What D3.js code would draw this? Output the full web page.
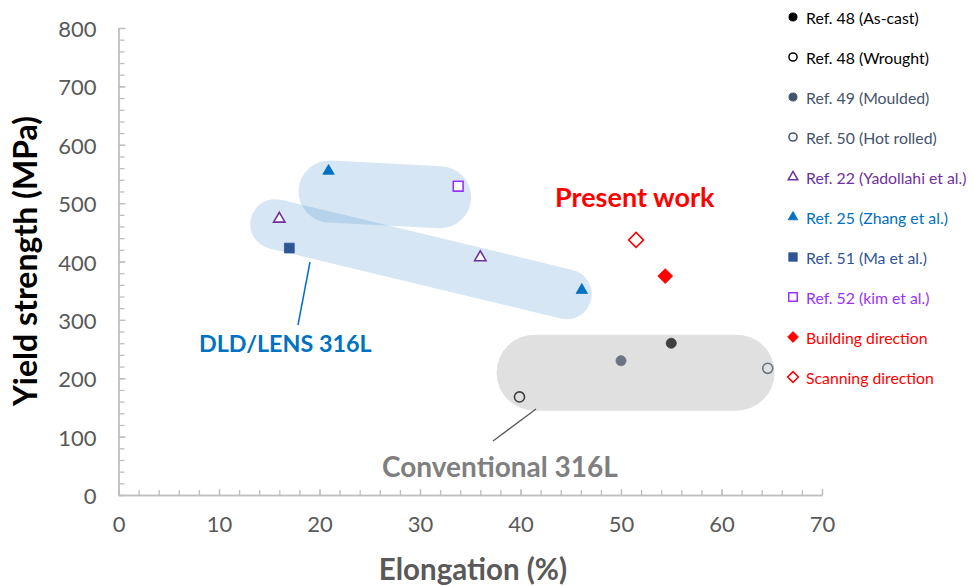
<!DOCTYPE html>
<html>
<head>
<meta charset="utf-8">
<script src="https://cdn.jsdelivr.net/npm/d3@7"></script>
<style>
  body { margin: 0; background: #fff; }
  #chart { width: 974px; height: 586px; }
  text { font-family: Lato, "Open Sans", sans-serif; }
</style>
</head>
<body>
<div id="chart"></div>
<script>
// ---- data: [elongation %, yield strength MPa]
const ref48AsCast    = [[55.0, 260]];
const ref48Wrought   = [[39.9, 168]];
const ref49Moulded   = [[50.0, 230]];
const ref50HotRolled = [[64.6, 217]];
const ref22Yadollahi = [[16.0, 473], [36.0, 407]];
const ref25Zhang     = [[20.9, 555], [46.1, 351]];
const ref51Ma        = [[17.0, 423]];
const ref52Kim       = [[33.8, 529]];
const buildingDir    = [[54.4, 375]];
const scanningDir    = [[51.5, 437]];

const seriesLabels = [
  "Ref. 48 (As-cast)", "Ref. 48 (Wrought)", "Ref. 49 (Moulded)", "Ref. 50 (Hot rolled)",
  "Ref. 22 (Yadollahi et al.)", "Ref. 25 (Zhang et al.)", "Ref. 51 (Ma et al.)",
  "Ref. 52 (kim et al.)", "Building direction", "Scanning direction"
];

// shaded groups, centre line ends in data units
const dldBands  = [[[21.0, 520], [32.0, 510]], [[15.6, 464], [44.6, 344]]];
const convBands = [[[41.4, 209.5], [61.5, 209.5]]];

const xTicks = [0, 10, 20, 30, 40, 50, 60, 70];
const yTicks = [0, 100, 200, 300, 400, 500, 600, 700, 800];

// ---- styles
const series = [
  { label: seriesLabels[0], data: ref48AsCast,    shape: "circle",   color: "#000000", open: false },
  { label: seriesLabels[1], data: ref48Wrought,   shape: "circle",   color: "#000000", open: true },
  { label: seriesLabels[2], data: ref49Moulded,   shape: "circle",   color: "#44546a", open: false },
  { label: seriesLabels[3], data: ref50HotRolled, shape: "circle",   color: "#44546a", open: true },
  { label: seriesLabels[4], data: ref22Yadollahi, shape: "triangle", color: "#7030a0", open: true },
  { label: seriesLabels[5], data: ref25Zhang,     shape: "triangle", color: "#0070c0", open: false },
  { label: seriesLabels[6], data: ref51Ma,        shape: "square",   color: "#2f5597", open: false },
  { label: seriesLabels[7], data: ref52Kim,       shape: "square",   color: "#9933ff", open: true },
  { label: seriesLabels[8], data: buildingDir,    shape: "diamond",  color: "#ff0000", open: false },
  { label: seriesLabels[9], data: scanningDir,    shape: "diamond",  color: "#ff0000", open: true }
];

const symbolType = { circle: d3.symbolCircle, triangle: d3.symbolTriangle, square: d3.symbolSquare, diamond: d3.symbolSquare };
const plotSize   = { circle: 80, triangle: 56, square: 96, diamond: 110 };
const legendSize = { circle: 52, triangle: 40, square: 72, diamond: 58 };

function drawChart() {
  d3.select("#chart").select("svg").remove();

  const W = 974, H = 586;
  const margin = { top: 28, right: 152, bottom: 91, left: 118.5 };
  const width = W - margin.left - margin.right;
  const height = H - margin.top - margin.bottom;

  const root = d3.select("#chart").append("svg")
    .attr("width", W).attr("height", H)
    .attr("viewBox", `0 0 ${W} ${H}`);

  const svg = root.append("g")
    .attr("transform", `translate(${margin.left},${margin.top})`);

  const x = d3.scaleLinear().domain([0, 70]).range([0, width]);
  const y = d3.scaleLinear().domain([0, 800]).range([height, 0]);

  // axes: minor ticks first, then majors with labels
  const axisColor = "#bfbfbf";
  const minorX = svg.append("g")
    .attr("transform", `translate(0,${height})`)
    .call(d3.axisBottom(x).tickValues(d3.range(0, 71, 2)).tickSizeInner(-5).tickSizeOuter(0).tickFormat(""));
  const minorY = svg.append("g")
    .call(d3.axisLeft(y).tickValues(d3.range(0, 801, 20)).tickSizeInner(-6).tickSizeOuter(0).tickFormat(""));

  const xAxis = svg.append("g")
    .attr("transform", `translate(0,${height})`)
    .call(d3.axisBottom(x).tickValues(xTicks).tickSizeInner(-6).tickSizeOuter(0).tickPadding(28));
  const yAxis = svg.append("g")
    .call(d3.axisLeft(y).tickValues(yTicks).tickSizeInner(-7).tickSizeOuter(0).tickPadding(22));

  [minorX, minorY, xAxis, yAxis].forEach(g => {
    g.selectAll("path, line").attr("stroke", axisColor).attr("stroke-width", 1.3);
    g.selectAll("text")
      .attr("fill", "#595959")
      .attr("font-size", "22px")
      .attr("font-family", "Lato, 'Open Sans', sans-serif");
  });
  xAxis.selectAll("text").attr("dy", null).attr("dominant-baseline", "central");
  yAxis.selectAll("text").attr("dy", null).attr("dominant-baseline", "central");

  // shaded groups as round-capped bands
  const bandLine = d3.line().x(d => x(d[0])).y(d => y(d[1]));

  svg.append("g").selectAll("path")
    .data(dldBands)
    .enter().append("path")
    .attr("d", bandLine)
    .attr("fill", "none")
    .attr("stroke", "#5b9bd5")
    .attr("stroke-opacity", 0.25)
    .attr("stroke-linecap", "round")
    .attr("stroke-width", (d, i) => i === 0 ? 62 : 50);

  // markers
  const markers = svg.append("g");
  series.forEach(s => {
    markers.selectAll(null)
      .data(s.data)
      .enter().append("path")
      .attr("d", d3.symbol().type(symbolType[s.shape]).size(plotSize[s.shape]))
      .attr("transform", d => `translate(${x(d[0])},${y(d[1])})` + (s.shape === "diamond" ? " rotate(45)" : ""))
      .attr("fill", s.open ? "#fff" : s.color)
      .attr("stroke", s.color)
      .attr("stroke-width", s.open ? 1.6 : 0.8);
  });

  // conventional band sits over its points, half transparent
  svg.append("g").selectAll("path")
    .data(convBands)
    .enter().append("path")
    .attr("d", bandLine)
    .attr("fill", "none")
    .attr("stroke", "#ababab")
    .attr("stroke-opacity", 0.37)
    .attr("stroke-linecap", "round")
    .attr("stroke-width", 76);

  // callouts
  root.append("line")
    .attr("x1", 310).attr("y1", 262).attr("x2", 298).attr("y2", 325)
    .attr("stroke", "#0070c0").attr("stroke-width", 1.5);
  root.append("text")
    .attr("x", 199).attr("y", 352)
    .attr("font-size", "23.3px").attr("font-weight", "bold")
    .attr("fill", "#0070c0")
    .text("DLD/LENS 316L");

  root.append("line")
    .attr("x1", 536).attr("y1", 409).attr("x2", 493).attr("y2", 441)
    .attr("stroke", "#595959").attr("stroke-width", 1.3);
  root.append("text")
    .attr("x", 382).attr("y", 477)
    .attr("font-size", "28px").attr("font-weight", "bold")
    .attr("fill", "#7f7f7f")
    .text("Conventional 316L");

  root.append("text")
    .attr("x", 555).attr("y", 207)
    .attr("font-size", "27px").attr("font-weight", "bold")
    .attr("fill", "#ff0000")
    .text("Present work");

  // axis titles
  root.append("text")
    .attr("x", 473).attr("y", 580)
    .attr("text-anchor", "middle")
    .attr("font-size", "29.5px").attr("font-weight", "bold")
    .attr("fill", "#595959")
    .text("Elongation (%)");
  root.append("text")
    .attr("transform", "translate(37,261) rotate(-90)")
    .attr("text-anchor", "middle")
    .attr("font-size", "32px").attr("font-weight", "bold")
    .attr("fill", "#000")
    .text("Yield strength (MPa)");

  // legend
  const legend = root.append("g").attr("transform", "translate(793,17)");
  const rows = legend.selectAll("g")
    .data(series)
    .enter().append("g")
    .attr("transform", (d, i) => `translate(0,${i * 40})`);
  rows.append("path")
    .attr("d", d => d3.symbol().type(symbolType[d.shape]).size(legendSize[d.shape])())
    .attr("transform", d => d.shape === "diamond" ? "rotate(45)" : null)
    .attr("fill", d => d.open ? "#fff" : d.color)
    .attr("stroke", d => d.color)
    .attr("stroke-width", d => d.open ? 1.5 : 0.8);
  rows.append("text")
    .attr("x", 13)
    .attr("dominant-baseline", "central")
    .attr("font-size", "15.8px")
    .attr("fill", d => d.color)
    .text(d => d.label);
}

window.addEventListener("DOMContentLoaded", drawChart);
</script>
</body>
</html>
